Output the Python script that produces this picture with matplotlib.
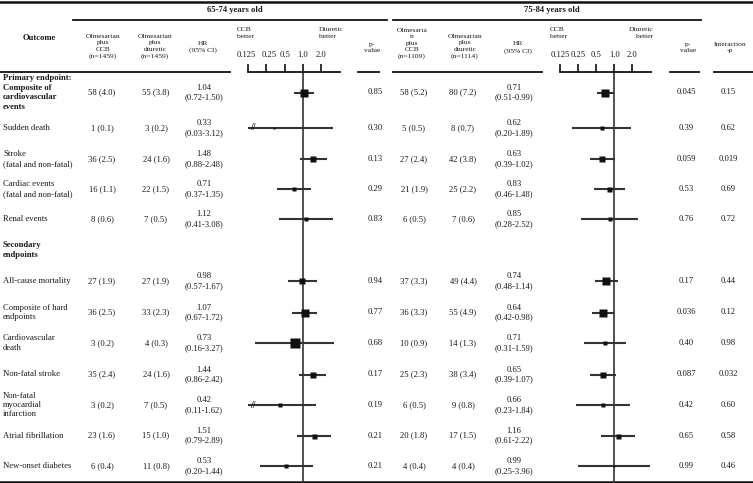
import matplotlib.pyplot as plt
import numpy as np
from matplotlib.ticker import NullLocator
from matplotlib.transforms import ScaledTranslation

plt.rcParams['font.family'] = ['Liberation Serif', 'DejaVu Serif']

# data
outcomes = ['Primary endpoint:\nComposite of\ncardiovascular\nevents', 'Sudden death',
            'Stroke\n(fatal and non-fatal)', 'Cardiac events\n(fatal and non-fatal)', 'Renal events',
            'All-cause mortality', 'Composite of hard\nendpoints', 'Cardiovascular\ndeath',
            'Non-fatal stroke', 'Non-fatal\nmyocardial\ninfarction', 'Atrial fibrillation',
            'New-onset diabetes']

ccb_6574 = ['58 (4.0)', '1 (0.1)', '36 (2.5)', '16 (1.1)', '8 (0.6)', '27 (1.9)', '36 (2.5)',
            '3 (0.2)', '35 (2.4)', '3 (0.2)', '23 (1.6)', '6 (0.4)']
diu_6574 = ['55 (3.8)', '3 (0.2)', '24 (1.6)', '22 (1.5)', '7 (0.5)', '27 (1.9)', '33 (2.3)',
            '4 (0.3)', '24 (1.6)', '7 (0.5)', '15 (1.0)', '11 (0.8)']
hr_6574 = [1.04, 0.33, 1.48, 0.71, 1.12, 0.98, 1.07, 0.73, 1.44, 0.42, 1.51, 0.53]
lo_6574 = [0.72, 0.03, 0.88, 0.37, 0.41, 0.57, 0.67, 0.16, 0.86, 0.11, 0.79, 0.20]
hi_6574 = [1.50, 3.12, 2.48, 1.35, 3.08, 1.67, 1.72, 3.27, 2.42, 1.62, 2.89, 1.44]
p_6574 = ['0.85', '0.30', '0.13', '0.29', '0.83', '0.94', '0.77', '0.68', '0.17', '0.19', '0.21', '0.21']
w_6574 = [6.7, 2, 5.3, 3.7, 2.5, 5.3, 6.7, 7.3, 4.7, 2.7, 4, 3.3]  # box size (weight), px

ccb_7584 = ['58 (5.2)', '5 (0.5)', '27 (2.4)', '21 (1.9)', '6 (0.5)', '37 (3.3)', '36 (3.3)',
            '10 (0.9)', '25 (2.3)', '6 (0.5)', '20 (1.8)', '4 (0.4)']
diu_7584 = ['80 (7.2)', '8 (0.7)', '42 (3.8)', '25 (2.2)', '7 (0.6)', '49 (4.4)', '55 (4.9)',
            '14 (1.3)', '38 (3.4)', '9 (0.8)', '17 (1.5)', '4 (0.4)']
hr_7584 = [0.71, 0.62, 0.63, 0.83, 0.85, 0.74, 0.64, 0.71, 0.65, 0.66, 1.16, 0.99]
lo_7584 = [0.51, 0.20, 0.39, 0.46, 0.28, 0.48, 0.42, 0.31, 0.39, 0.23, 0.61, 0.25]
hi_7584 = [0.99, 1.89, 1.02, 1.48, 2.52, 1.14, 0.98, 1.59, 1.07, 1.84, 2.22, 3.96]
p_7584 = ['0.045', '0.39', '0.059', '0.53', '0.76', '0.17', '0.036', '0.40', '0.087', '0.42', '0.65', '0.99']
w_7584 = [6.7, 2.7, 5, 4, 2.7, 6, 6.7, 3.3, 5, 2.7, 4, 1.5]
p_inter = ['0.15', '0.62', '0.019', '0.69', '0.72', '0.44', '0.12', '0.98', '0.032', '0.60', '0.58', '0.46']

ticks = [0.125, 0.25, 0.5, 1, 2]
tick_labels = ['0.125', '0.25', '0.5', '1.0', '2.0']

# layout (pixel rows)
row_y = [92.5, 128, 159, 189, 219, 281, 312.5, 343, 374.5, 405, 435.5, 466]
W, H = 753, 483
TXT = '#1a1a1a'
FS = 6.2
HFS = 5.4
LS = 1.3

fig = plt.figure(figsize=(W / 100, H / 100), dpi=100)
ax = fig.add_axes([0, 0, 1, 1])
ax.set_xlim(0, W)
ax.set_ylim(H, 0)
ax.axis('off')

# rules
ax.plot([0, W], [1.5, 1.5], color='#111', lw=1.8)
ax.plot([0, W], [481.5, 481.5], color='#111', lw=1.8)
for x0, x1 in [(73, 387), (393, 701)]:
    ax.plot([x0, x1], [20, 20], color='#111', lw=1.3)
for x0, x1 in [(0, 230), (358, 379), (393, 542), (670, 699), (714, 753)]:
    ax.plot([x0, x1], [72, 72], color='#111', lw=1.3)

# headers
ax.text(235, 10, '65-74 years old', ha='center', va='center', fontsize=FS, fontweight='bold', color=TXT)
ax.text(552, 10, '75-84 years old', ha='center', va='center', fontsize=FS, fontweight='bold', color=TXT)
ax.text(39, 38, 'Outcome', ha='center', va='center', fontsize=FS, fontweight='bold', color=TXT)
hdr = [(103, 46.5, 'Olmesartan\nplus\nCCB\n(n=1459)'), (155, 46.5, 'Olmesartan\nplus\ndiuretic\n(n=1459)'),
       (203, 47, 'HR\n(95% CI)'), (372, 47.5, 'p-\nvalue'),
       (412, 43.5, 'Olmesarta\nn\nplus\nCCB\n(n=1109)'), (465, 46.5, 'Olmesartan\nplus\ndiuretic\n(n=1114)'),
       (518, 47.5, 'HR\n(95% CI)'), (688, 47.5, 'p-\nvalue'), (730, 47.5, 'Interaction\n-p')]
for x, y, s in hdr:
    ax.text(x, y, s, ha='center', va='center', fontsize=HFS, color=TXT, linespacing=LS)
ax.text(237, 33, 'CCB\nbetter', ha='left', va='center', fontsize=HFS, color=TXT, linespacing=LS)
ax.text(319, 33, 'Diuretic\nbetter', ha='left', va='center', fontsize=HFS, color=TXT, linespacing=LS)
ax.text(550, 33, 'CCB\nbetter', ha='left', va='center', fontsize=HFS, color=TXT, linespacing=LS)
ax.text(653, 33, 'Diuretic\nbetter', ha='right', va='center', fontsize=HFS, color=TXT, linespacing=LS,
        multialignment='right')

# table body
for i, y in enumerate(row_y):
    ax.text(3, y, outcomes[i], ha='left', va='center', fontsize=FS, color=TXT, linespacing=1.25,
            fontweight='bold' if i == 0 else 'normal')
    ax.text(102, y, ccb_6574[i], ha='center', va='center', fontsize=FS, color=TXT)
    ax.text(156, y, diu_6574[i], ha='center', va='center', fontsize=FS, color=TXT)
    ax.text(204, y, f'{hr_6574[i]:.2f}\n({lo_6574[i]:.2f}-{hi_6574[i]:.2f})', ha='center', va='center',
            fontsize=FS, color=TXT, linespacing=1.25)
    ax.text(375, y, p_6574[i], ha='center', va='center', fontsize=FS, color=TXT)
    ax.text(414, y, ccb_7584[i], ha='center', va='center', fontsize=FS, color=TXT)
    ax.text(463, y, diu_7584[i], ha='center', va='center', fontsize=FS, color=TXT)
    ax.text(514, y, f'{hr_7584[i]:.2f}\n({lo_7584[i]:.2f}-{hi_7584[i]:.2f})', ha='center', va='center',
            fontsize=FS, color=TXT, linespacing=1.25)
    ax.text(686, y, p_7584[i], ha='center', va='center', fontsize=FS, color=TXT)
    ax.text(728, y, p_inter[i], ha='center', va='center', fontsize=FS, color=TXT)
ax.text(3, 250, 'Secondary\nendpoints', ha='left', va='center', fontsize=FS, fontweight='bold',
        color=TXT, linespacing=1.35)


def forest(x0, width, hr, lo, hi, box, nudge=None):
    fa = fig.add_axes([x0 / W, 0, width / W, (H - 72) / H])
    fa.patch.set_alpha(0)
    fa.set_xscale('log', base=2)
    fa.set_xlim(0.125, 4)
    fa.set_ylim(H, 72)
    for s in ['left', 'right', 'bottom']:
        fa.spines[s].set_visible(False)
    fa.spines['top'].set_linewidth(1.3)
    fa.spines['top'].set_color('#111')
    fa.xaxis.set_ticks_position('top')
    fa.set_xticks(ticks)
    fa.set_xticklabels(tick_labels)
    fa.xaxis.set_minor_locator(NullLocator())
    fa.tick_params(axis='x', direction='out', length=5.8, width=1.2, pad=3.5, labelsize=FS,
                   colors='#111', labelcolor=TXT)
    fa.set_yticks([])
    if nudge:
        for lab, dx in zip(fa.get_xticklabels(), nudge):
            lab.set_transform(lab.get_transform() + ScaledTranslation(dx / 100, 0, fig.dpi_scale_trans))
    fa.axvline(1, color='#333', lw=1.2, zorder=1)
    for j, y in enumerate(row_y):
        l = max(lo[j], 0.125)
        fa.plot([l, min(hi[j], 4)], [y, y], color='#333', lw=1.5, solid_capstyle='butt', zorder=2)
        fa.plot(hr[j], y, marker='s', ms=box[j] * 0.9, color='#111', mec='none', zorder=3)
        if lo[j] < 0.125:
            fa.text(0.125 * 2 ** 0.25, y, '//', ha='center', va='center', fontsize=7, color='#222',
                    fontweight='bold', zorder=4)
    return fa


forest(248, 91.7, hr_6574, lo_6574, hi_6574, w_6574, nudge=[-1.5, 2.5, 0, 0, 0])
forest(560, 90.5, hr_7584, lo_7584, hi_7584, w_7584)

plt.savefig('out.png', dpi=100)
